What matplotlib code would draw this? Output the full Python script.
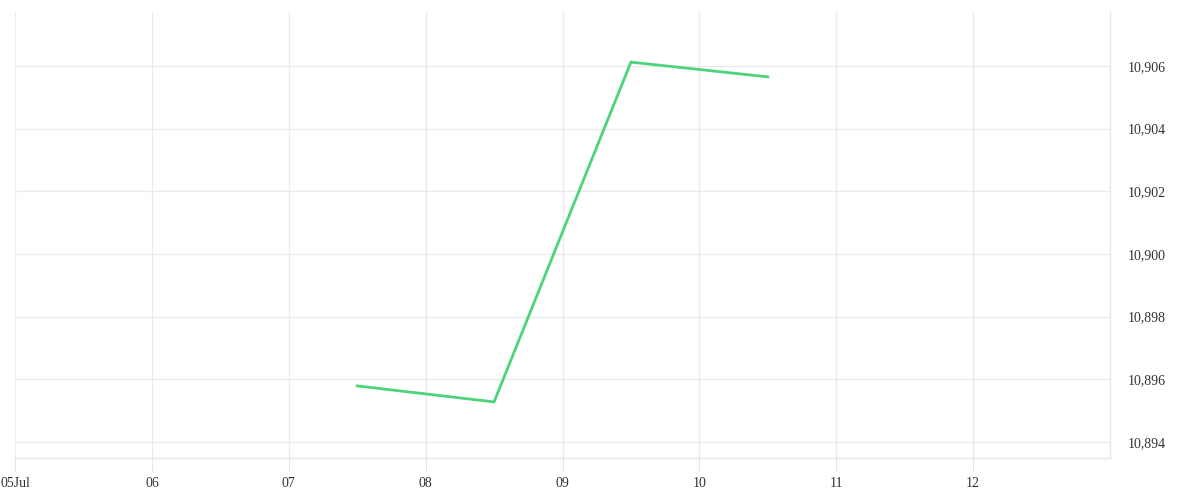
import matplotlib
matplotlib.use("Agg")
import matplotlib.pyplot as plt
import matplotlib.dates as mdates
from matplotlib.ticker import FixedLocator, FuncFormatter
from datetime import datetime

# data
times = [datetime(2023, 7, 7, 12), datetime(2023, 7, 8, 12),
         datetime(2023, 7, 9, 12), datetime(2023, 7, 10, 12)]
values = [10.89579, 10.89528, 10.90612, 10.90565]

tick_days = [datetime(2023, 7, d) for d in range(5, 13)]
tick_labels = ["05Jul", "06", "07", "08", "09", "10", "11", "12"]
y_ticks = [10.894, 10.896, 10.898, 10.900, 10.902, 10.904, 10.906]

plt.rcParams['font.family'] = ['Liberation Serif', 'DejaVu Serif']

fig = plt.figure(figsize=(12, 5), dpi=100)
ax = fig.add_axes([0.0125, 0.084, 0.9125, 0.892])

ax.plot(times, values, color='#4cd47a', linewidth=2, solid_joinstyle='miter')

ax.set_xlim(datetime(2023, 7, 5), datetime(2023, 7, 13))
ax.set_ylim(10.89349, 10.90772)

ax.xaxis.set_major_locator(FixedLocator(mdates.date2num(tick_days)))
ax.xaxis.set_major_formatter(FuncFormatter(lambda v, p: tick_labels[p] if p is not None and p < len(tick_labels) else ""))
ax.set_yticks(y_ticks)
ax.yaxis.set_major_formatter(FuncFormatter(lambda v, p: f"{v:.3f}".replace(".", ",")))
ax.yaxis.tick_right()

ax.grid(True, color='#ebebeb', linewidth=1)
ax.set_axisbelow(True)
for side in ['top', 'left']:
    ax.spines[side].set_visible(False)
for side in ['right', 'bottom']:
    ax.spines[side].set_color('#e6e6e6')
    ax.spines[side].set_linewidth(1)

ax.tick_params(axis='x', length=9, color='#e6e6e6', pad=5, labelsize=10, labelcolor='#333333')
ax.tick_params(axis='y', length=0, pad=13, labelsize=10, labelcolor='#333333')

fig.savefig('out.png', dpi=100, facecolor='white')
